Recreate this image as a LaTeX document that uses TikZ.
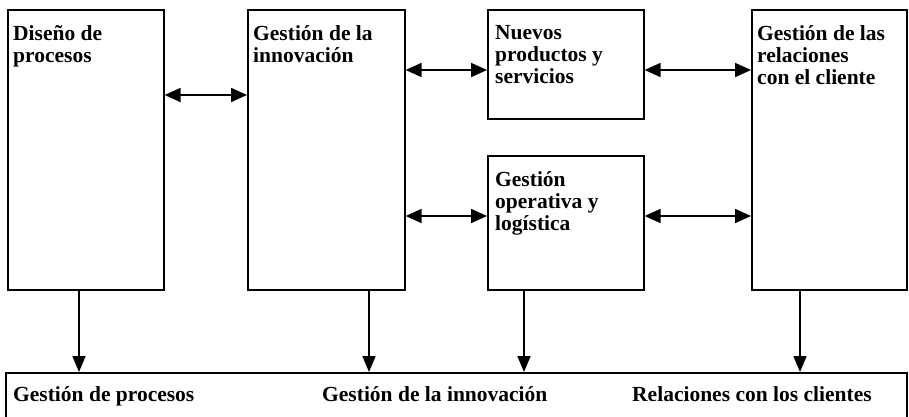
\documentclass[tikz,border=0pt]{standalone}
\usepackage{fontspec}
\setmainfont{Liberation Serif}
\usetikzlibrary{arrows.meta}
\begin{document}
\begin{tikzpicture}[x=1pt,y=-1pt,
  box/.style={draw, line width=1.6pt, inner sep=0, anchor=north west},
  lbl/.style={font=\fontsize{21.5}{22}\selectfont\bfseries, align=left, anchor=north west, inner sep=0},
  blbl/.style={font=\fontsize{21.5}{22}\selectfont\bfseries, anchor=base west, inner sep=0},
  link/.style={line width=1.8pt, {Triangle[length=16pt,width=14pt]}-{Triangle[length=16pt,width=14pt]}},
  down/.style={line width=1.6pt, -{Triangle[length=16pt,width=13pt]}}]
\useasboundingbox (0,0) rectangle (909,416);
\node[box, minimum width=156pt, minimum height=280pt] (b1) at (7,9) {};
\node[box, minimum width=157pt, minimum height=280pt] (b2) at (247,9) {};
\node[box, minimum width=156pt, minimum height=109pt] (b3) at (487,9) {};
\node[box, minimum width=156pt, minimum height=134pt] (b4) at (487,155) {};
\node[box, minimum width=155pt, minimum height=280pt] (b5) at (751,9) {};
\node[box, minimum width=901pt, minimum height=80pt] (bb) at (5,372) {};
\node[lbl] (t1) at ([xshift=6pt,yshift=-16pt]b1.north west) {Diseño de\\procesos};
\node[lbl] (t2) at ([xshift=6pt,yshift=-16pt]b2.north west) {Gestión de la\\innovación};
\node[lbl] (t3) at ([xshift=8pt,yshift=-16pt]b3.north west) {Nuevos\\productos y\\servicios};
\node[lbl] (t4) at ([xshift=8pt,yshift=-16pt]b4.north west) {Gestión\\operativa y\\logística};
\node[lbl] (t5) at ([xshift=6pt,yshift=-16pt]b5.north west) {Gestión de las\\relaciones\\con el cliente};
\node[blbl] (l1) at ([xshift=8pt,yshift=-29pt]bb.north west) {Gestión de procesos};
\node[blbl] (l2) at ([xshift=317pt,yshift=-29pt]bb.north west) {Gestión de la innovación};
\node[blbl] (l3) at ([xshift=627pt,yshift=-29pt]bb.north west) {Relaciones con los clientes};
\draw[link] ([yshift=-86pt]b1.north east) -- ([yshift=-86pt]b2.north west);
\draw[link] ([yshift=-61pt]b2.north east) -- ([yshift=-61pt]b3.north west);
\draw[link] ([yshift=-61pt]b3.north east) -- ([yshift=-61pt]b5.north west);
\draw[link] ([yshift=-207pt]b2.north east) -- ([yshift=-61pt]b4.north west);
\draw[link] ([yshift=-61pt]b4.north east) -- ([yshift=-207pt]b5.north west);
\draw[down] ([xshift=72pt]b1.south west) -- ([xshift=72pt]b1.south west |- bb.north);
\draw[down] ([xshift=122pt]b2.south west) -- ([xshift=122pt]b2.south west |- bb.north);
\draw[down] ([xshift=37pt]b4.south west) -- ([xshift=37pt]b4.south west |- bb.north);
\draw[down] ([xshift=49pt]b5.south west) -- ([xshift=49pt]b5.south west |- bb.north);
\end{tikzpicture}
\end{document}
